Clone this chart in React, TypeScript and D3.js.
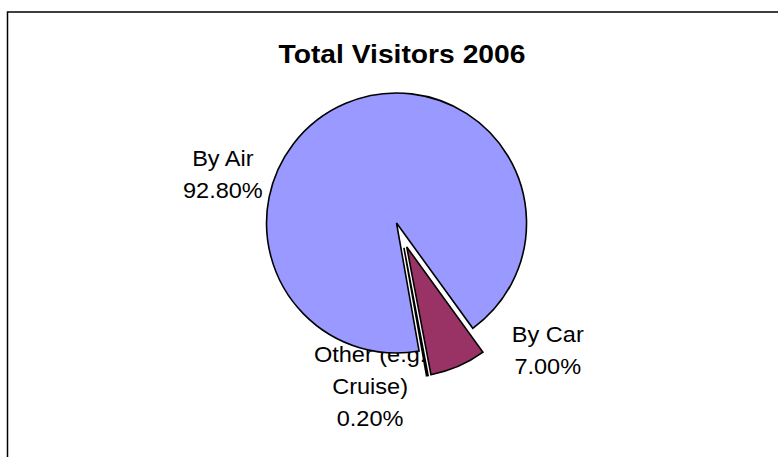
import React from "react";
import * as d3 from "d3";

const title = "Total Visitors 2006";
const categoryLines = [["By Air"], ["By Car"], ["Other (e.g.", "Cruise)"]];
const values = [92.8, 7.0, 0.2];
const colors = ["#9999FF", "#993366", "#FFFFCC"];
// label placement (polar, degrees clockwise from 12 o'clock, px from pie centre)
const labelAngles = [289, 128.2, 191.8];
const labelRadii = [189, 186, 154];

const W = 778;
const H = 457;
const cx = 401.6;
const cy = 235;
const R = 130;
const explode = 13;
const startDeg = 170;
const fontSize = 22;
const lineGap = 32;
const textScale = 1.07;

export default function App() {
  const total = d3.sum(values);
  const fmt = d3.format(".2%");
  const pie = d3
    .pie<number>()
    .sort(null)
    .value((d) => d)
    .startAngle((startDeg * Math.PI) / 180)
    .endAngle((startDeg * Math.PI) / 180 + 2 * Math.PI);
  const arcs = pie(values);
  const arcGen = d3.arc<d3.PieArcDatum<number>>().innerRadius(0).outerRadius(R);

  return (
    <svg
      width={W}
      height={H}
      style={{ position: "absolute", left: 0, top: 0, fontFamily: "'Liberation Sans', Arial, sans-serif" }}
    >
      <rect x={0} y={0} width={W} height={H} fill="#fff" />
      <rect x={7.5} y={12} width={W + 10} height={H + 10} fill="#fff" stroke="#000" strokeWidth={1.5} />
      <g transform={`translate(${(W / 2 + 13).toFixed(1)},63) scale(1.13,1)`}>
        <text textAnchor="middle" fontWeight="bold" fontSize={25} fill="#000">
          {title}
        </text>
      </g>
      {arcs.map((a, i) => {
        const ang = (labelAngles[i] * Math.PI) / 180;
        const lx = cx + labelRadii[i] * Math.sin(ang);
        const ly = cy - labelRadii[i] * Math.cos(ang);
        const lines = [...categoryLines[i], fmt(values[i] / total)];
        const n = lines.length;
        return (
          <g key={"l" + i} transform={`translate(${lx},${ly}) scale(${textScale},1)`}>
            {lines.map((t, j) => (
              <text
                key={j}
                x={0}
                y={8.3 + (j - (n - 1) / 2) * lineGap}
                textAnchor="middle"
                fontSize={fontSize}
                fill="#000"
              >
                {t}
              </text>
            ))}
          </g>
        );
      })}
      {arcs.map((a, i) => {
        const mid = (a.startAngle + a.endAngle) / 2;
        const dx = explode * Math.sin(mid);
        const dy = -explode * Math.cos(mid);
        return (
          <path
            key={"s" + i}
            d={arcGen(a) || ""}
            transform={`translate(${cx + dx},${cy + dy})`}
            fill={colors[i]}
            stroke="#000"
            strokeWidth={1.6}
            strokeLinejoin="miter"
          />
        );
      })}
    </svg>
  );
}
